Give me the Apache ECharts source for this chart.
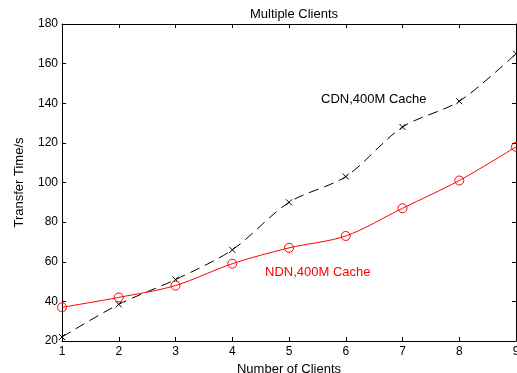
<!DOCTYPE html>
<html><head><meta charset="utf-8">
<script src="https://cdn.jsdelivr.net/npm/echarts@6/dist/echarts.min.js"></script>
<style>html,body{margin:0;padding:0;background:#fff}#c{width:517px;height:373px}</style>
</head><body><div id="c"></div>
<script>
const clients = [1,2,3,4,5,6,7,8,9];
const cdnValues = [22, 38.5, 51, 66, 90, 103, 128, 141, 165];
const ndnValues = [37, 42, 48, 59, 67, 73, 87, 101, 118];
const yTicks = [20,40,60,80,100,120,140,160,180];
const xTicks = [1,2,3,4,5,6,7,8,9];

const FONT = 'Liberation Sans, Arial, sans-serif';
const crossPath = 'path://M0,0L10,10M10,0L0,10';
const chart = echarts.init(document.getElementById('c'), null, {renderer:'canvas'});
const axisLine = {show:true, lineStyle:{color:'#000', width:1}};
chart.setOption({
  animation:false,
  backgroundColor:'#fff',
  title:{text:'Multiple Clients', left:289, top:3, textAlign:'center',
    textStyle:{fontFamily:FONT, fontSize:13, fontWeight:'normal', color:'#000'}},
  grid:{left:62, right:1, top:24, bottom:32, containLabel:false, outerBoundsMode:'none'},
  xAxis:[{
    type:'value', min:xTicks[0], max:xTicks[xTicks.length-1], interval:1,
    name:'Number of Clients', nameLocation:'middle', nameGap:20,
    nameTextStyle:{fontFamily:FONT, fontSize:13, color:'#000'},
    axisLine, axisTick:{inside:true, length:4, lineStyle:{color:'#000'}},
    axisLabel:{fontFamily:FONT, fontSize:12, color:'#000', margin:5},
    splitLine:{show:false}
  },{
    type:'value', position:'top', min:1, max:9, interval:1,
    axisLine, axisTick:{inside:true, length:4, lineStyle:{color:'#000'}},
    axisLabel:{show:false}, splitLine:{show:false}
  }],
  yAxis:[{
    type:'value', min:yTicks[0], max:yTicks[yTicks.length-1], interval:20,
    name:'Transfer Time/s', nameLocation:'middle', nameGap:36, nameRotate:90,
    nameTextStyle:{fontFamily:FONT, fontSize:13, color:'#000'},
    axisLine, axisTick:{inside:true, length:4, lineStyle:{color:'#000'}},
    axisLabel:{fontFamily:FONT, fontSize:12, color:'#000', margin:4},
    splitLine:{show:false}
  },{
    type:'value', position:'right', min:20, max:180, interval:20,
    axisLine, axisTick:{inside:true, length:4, lineStyle:{color:'#000'}},
    axisLabel:{show:false}, splitLine:{show:false}
  }],
  series:[{
    name:'CDN,400M Cache', type:'line', smooth:0.3,
    data: clients.map((c,i)=>[c, cdnValues[i]]),
    lineStyle:{color:'#000', width:1, type:[10,6]},
    itemStyle:{color:'transparent', borderColor:'#000', borderWidth:1},
    symbol:crossPath, symbolSize:6, showAllSymbol:true
  },{
    name:'NDN,400M Cache', type:'line', smooth:0.3,
    data: clients.map((c,i)=>[c, ndnValues[i]]),
    lineStyle:{color:'#ff0000', width:1},
    itemStyle:{color:'transparent', borderColor:'#ff0000', borderWidth:1},
    symbol:'circle', symbolSize:9, showAllSymbol:true
  }],
  graphic:[
    {type:'text', left:321, top:93, style:{text:'CDN,400M Cache', fill:'#000', font:'13px '+FONT}},
    {type:'text', left:265, top:266, style:{text:'NDN,400M Cache', fill:'#ff0000', font:'13px '+FONT}}
  ]
});
</script></body></html>
